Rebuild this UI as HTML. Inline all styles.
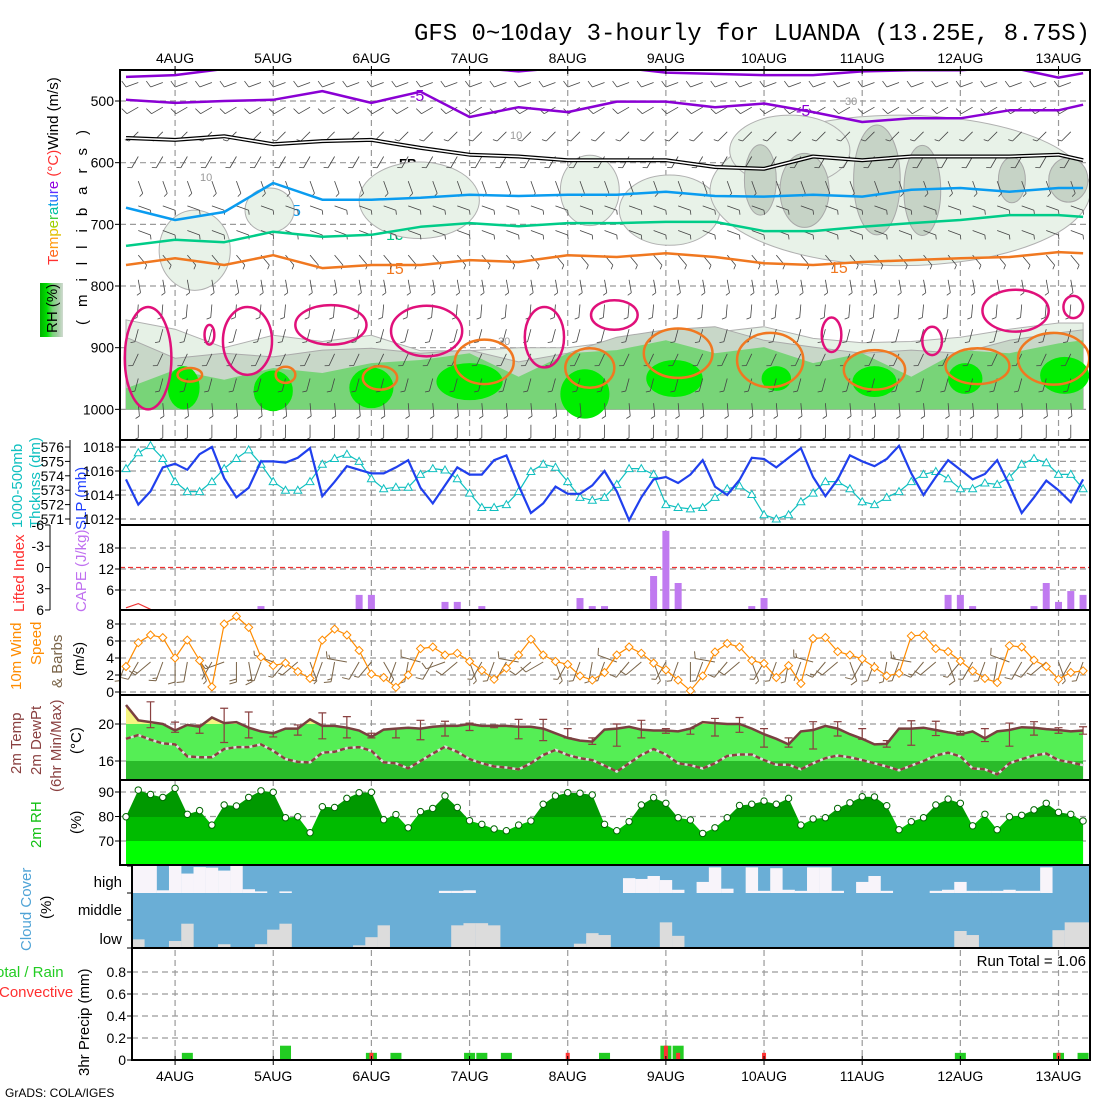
<!DOCTYPE html>
<html>
<head>
<meta charset="utf-8">
<title>GFS meteogram LUANDA</title>
<style>
html,body{margin:0;padding:0;background:#fff;}
svg{display:block;}
text{font-family:"Liberation Sans",sans-serif;}
</style>
</head>
<body>
<svg id="chart" width="1100" height="1100" viewBox="0 0 1100 1100" xmlns="http://www.w3.org/2000/svg">
<defs>
<clipPath id="clipUpper"><rect x="121" y="71" width="968" height="368"/></clipPath>
<clipPath id="clipCloud"><rect x="133" y="866" width="957" height="82"/></clipPath>
<clipPath id="clipTempY"><rect x="120" y="690" width="980" height="34"/></clipPath>
<clipPath id="clipTempG"><rect x="120" y="724" width="980" height="37"/></clipPath>
<clipPath id="clipTempD"><rect x="120" y="761" width="980" height="20"/></clipPath>
<clipPath id="clipRhA"><rect x="120" y="780" width="980" height="37"/></clipPath>
<clipPath id="clipRhB"><rect x="120" y="817" width="980" height="24"/></clipPath>
<clipPath id="clipRhC"><rect x="120" y="841" width="980" height="25"/></clipPath>
<linearGradient id="rhGrad" x1="0" x2="1" y1="0" y2="0">
<stop offset="0" stop-color="#00b000"/><stop offset="0.3" stop-color="#00e000"/><stop offset="0.55" stop-color="#78d478"/><stop offset="0.8" stop-color="#a8cca8"/><stop offset="1" stop-color="#d0dcd0"/>
</linearGradient>
</defs>

<text x="414" y="40" style="font-family:'Liberation Mono',monospace;" font-size="24" textLength="676" lengthAdjust="spacingAndGlyphs" fill="#000">GFS 0~10day 3-hourly for LUANDA (13.25E, 8.75S)</text>
<text x="5" y="1097" font-size="12" fill="#000">GrADS: COLA/IGES</text>

<text transform="translate(58,265) rotate(-90)" font-size="15"><tspan fill="#ff3030">T</tspan><tspan fill="#ff6a20">e</tspan><tspan fill="#ff9a10">m</tspan><tspan fill="#e0c000">p</tspan><tspan fill="#a0d000">e</tspan><tspan fill="#40d040">r</tspan><tspan fill="#00c0a0">a</tspan><tspan fill="#00a0e0">t</tspan><tspan fill="#2060ff">u</tspan><tspan fill="#6030ff">r</tspan><tspan fill="#9000e0">e</tspan><tspan fill="#ff3030"> (°C)</tspan><tspan fill="#000">Wind (m/s)</tspan></text>
<rect x="40" y="283" width="23" height="54" fill="url(#rhGrad)"/>
<text transform="translate(57,333) rotate(-90)" font-size="15" fill="#000">RH (%)</text>
<text transform="translate(87,325) rotate(-90)" font-size="15" fill="#000" textLength="195" lengthAdjust="spacing">(millibars)</text>

<text transform="translate(22,528) rotate(-90)" font-size="15" fill="#10c0c0">1000-500mb</text>
<text transform="translate(40,528) rotate(-90)" font-size="15" fill="#10c0c0">Thcknss (dm)</text>
<text transform="translate(86,530) rotate(-90)" font-size="15" fill="#2040ff">SLP (mb)</text>
<text transform="translate(24,612) rotate(-90)" font-size="15" fill="#ff3030">Lifted Index</text>
<text transform="translate(86,612) rotate(-90)" font-size="15" fill="#c070f0">CAPE (J/kg)</text>
<text transform="translate(21,690) rotate(-90)" font-size="15" fill="#ff8c00">10m Wind</text>
<text transform="translate(41,665) rotate(-90)" font-size="15" fill="#ff8c00">Speed</text>
<text transform="translate(62,688) rotate(-90)" font-size="15" fill="#7a6448">&amp; Barbs</text>
<text transform="translate(84,676) rotate(-90)" font-size="15" fill="#000">(m/s)</text>
<text transform="translate(21,774) rotate(-90)" font-size="15" fill="#8a4040">2m Temp</text>
<text transform="translate(41,775) rotate(-90)" font-size="15" fill="#8a4040">2m DewPt</text>
<text transform="translate(61,792) rotate(-90)" font-size="15" fill="#8a4040">(6hr Min/Max)</text>
<text transform="translate(81,754) rotate(-90)" font-size="15" fill="#000">(°C)</text>
<text transform="translate(41,848) rotate(-90)" font-size="15" fill="#10c010">2m RH</text>
<text transform="translate(81,834) rotate(-90)" font-size="15" fill="#000">(%)</text>
<text transform="translate(31,951) rotate(-90)" font-size="15" fill="#4fa3d6">Cloud Cover</text>
<text transform="translate(51,919) rotate(-90)" font-size="15" fill="#000">(%)</text>
<text x="122" y="887" font-size="15" text-anchor="end" fill="#000">high</text>
<text x="122" y="915" font-size="15" text-anchor="end" fill="#000">middle</text>
<text x="122" y="944" font-size="15" text-anchor="end" fill="#000">low</text>
<text x="-4" y="977" font-size="15" fill="#22cc22">otal / Rain</text>
<text x="-1" y="997" font-size="15" fill="#ff3030">Convective</text>
<text transform="translate(89,1076) rotate(-90)" font-size="15" fill="#000">3hr Precip (mm)</text>
<text x="1086" y="966" font-size="15" text-anchor="end" fill="#000">Run Total = 1.06</text>

<g font-size="16">
<text x="410" y="101" fill="#8a00d4">-5</text>
<text x="796" y="116" fill="#8a00d4">-5</text>
<text x="399" y="168" font-size="13" font-weight="bold" fill="#000">FR</text>
<text x="866" y="168" font-size="13" font-weight="bold" fill="#000">FR</text>
<text x="292" y="216" fill="#0a9cf0">5</text>
<text x="637" y="202" fill="#0a9cf0">5</text>
<text x="386" y="240" fill="#00cc88">10</text>
<text x="840" y="232" fill="#00cc88">10</text>
<text x="386" y="274" fill="#f07820">15</text>
<text x="830" y="273" fill="#f07820">15</text>
<text x="200" y="181" font-size="11" fill="#999">10</text>
<text x="510" y="139" font-size="11" fill="#999">10</text>
<text x="586" y="222" font-size="11" fill="#999">30</text>
<text x="498" y="345" font-size="11" fill="#999">30</text>
<text x="845" y="105" font-size="11" fill="#999">30</text>
</g>
</svg>

<script>
const dayLabels = ["4AUG","5AUG","6AUG","7AUG","8AUG","9AUG","10AUG","11AUG","12AUG","13AUG"];
const dayIdx = [4,12,20,28,36,44,52,60,68,76];

const pressureTicks = [500,600,700,800,900,1000];
const isoIdx = [0,4,8,12,16,20,24,28,32,36,40,44,48,52,56,60,64,68,72,76,78];
const isoM10 = [461,458,448,445,440,440,440,445,452,445,445,454,456,458,458,452,450,450,445,462,455];
const isoM5  = [498,503,500,498,484,503,485,526,510,518,501,501,510,504,518,534,528,528,515,515,506];
const isoFR  = [560,563,557,570,565,563,576,587,590,596,596,596,607,610,590,596,590,590,590,587,596];
const iso5   = [673,693,680,633,660,660,657,652,654,652,652,647,654,655,652,655,644,641,647,641,641];
const iso10  = [735,725,729,712,720,717,704,698,703,698,698,696,696,711,711,704,698,693,685,685,688];
const iso15  = [766,755,766,750,771,766,766,758,761,750,753,747,753,763,766,761,758,755,753,745,747];

const rh30Top = [855,870,900,880,890,880,905,905,900,900,890,880,875,866,885,892,890,883,870,860,860];
const rh50Top = [883,917,909,915,904,901,909,904,923,909,883,871,866,888,899,909,904,909,888,876,871];
const rh70Top = [966,936,952,933,941,925,920,909,947,909,904,888,909,899,925,909,947,904,909,893,888];

const blobIdx = [4.7,12,20,28,37.4,44.7,53,61,68.4,76.5];
const blobP   = [965,970,965,955,975,950,950,955,950,945];
const blobW   = [1.3,1.6,1.8,2.7,2,2.3,1.2,1.8,1.4,2];
const blobH   = [35,33,33,30,40,30,20,25,25,30];

const orgIdx = [5.2,13,20.7,29.2,37.8,45,52.5,61,69.4,75.6];
const orgP   = [944,944,949,923,933,909,920,936,930,918];
const orgW   = [1,0.8,1.4,2.4,2,2.8,2.7,2.5,2.6,2.9];
const orgH   = [11,13,19,36,32,40,44,32,29,42];

const magIdx = [1.8,6.8,9.9,16.7,24.5,34.1,39.8,57.5,65.7,72.5,77.2];
const magP   = [917,879,889,863,873,883,847,879,889,840,834];
const magW   = [1.9,0.4,2,2.9,2.9,1.6,1.9,0.8,0.8,2.7,0.8];
const magH   = [83,16,55,32,41,49,24,28,23,34,18];

const midIdx = [5.6,11.7,23.9,37.8,44.3,63.1,54.1];
const midP   = [742,677,661,645,677,645,580];
const midW   = [2.9,2,4.9,2.4,4.1,15.5,4.9];
const midH   = [65,36,62,57,57,122,57];
const darkIdx = [51.7,55.3,61.2,64.9,72.2,76.8];
const darkP   = [628,645,628,645,628,628];
const darkW   = [1.3,2,1.9,1.5,1.1,1.6];
const darkH   = [57,60,89,73,37,36];

const levelP   = [470,510,550,590,630,670,710,750,790,830,870,910,950,990,1025];
const levelDir = [250,240,225,210,160,110,110,140,170,185,195,205,195,175,180];
const levelSpd = [10,10,7,5,4,5,6,5,3,5,6,7,5,4,3];

const slp = [1015.3,1013.2,1014.3,1016.3,1016.6,1016.1,1017.4,1018,1015.4,1013.8,
1014.6,1016.8,1016.8,1016.7,1017.1,1017.9,1013.9,1015.1,1016.4,1016.1,
1015.8,1015.8,1016.3,1016.9,1014.6,1013.3,1014.8,1016.3,1015.7,1015.7,
1016.9,1017.3,1014.8,1012.5,1013.3,1014.7,1014.1,1014.1,1014.8,1016.0,
1014.3,1011.9,1013.8,1015.3,1015.5,1015.0,1015.7,1016.9,1014.7,1014.0,
1015.25,1017.1,1017.0,1016.3,1017.1,1017.9,1015.5,1013.9,1015.3,1017.3,
1016.8,1016.4,1017.0,1018.1,1015.8,1014.0,1015.5,1016.9,1016.1,1015.3,
1015.75,1016.9,1014.8,1012.5,1013.8,1015.2,1014.4,1013.4,1015.3];
const thick = [574.5,575.6,576.1,575.2,573.6,572.9,572.9,573.6,574.5,575.2,
575.8,574.8,573.6,573.0,573.0,573.6,574.8,575.2,575.5,575.0,
573.8,573.1,573.2,573.2,574.1,574.5,574.4,573.8,572.8,571.8,
571.8,572.0,572.9,574.3,574.8,574.6,573.6,572.5,572.3,572.5,
573.4,574.5,574.5,574.1,572.0,571.8,571.7,571.8,572.5,573.1,
573.3,572.7,571.3,571.0,571.3,572.2,572.8,573.6,573.6,573.1,
572.2,572.0,572.5,572.9,573.6,574.1,574.3,573.8,573.1,573.1,
573.5,573.4,573.9,574.8,575.2,574.9,574.1,574.1,573.1];
const slpTicks = [1012,1014,1016,1018];
const thickTicks = [571,572,573,574,575,576];

const capeIdx = [11,19,20,26,27,29,37,38,39,43,44,45,51,52,67,68,69,74,75,76,77,78];
const capeVal = [1.4,4.6,4.6,2.6,2.6,1.4,3.7,1.4,1.4,10,22.9,8,1.4,3.7,4.6,4.6,1.4,1.4,8,2.6,5.7,4.6];
const capeTicks = [6,12,18];
const liIdx = [0,1,2];
const liVal = [5.7,5.1,5.9];
const liTicks = [-6,-3,0,3,6];

const wspd = [3.0,5.8,6.7,6.4,4.0,6.1,3.7,0.6,8.0,8.9,
7.6,4.1,3.1,3.4,2.4,1.6,6.1,7.4,6.7,4.9,
2.1,1.7,0.55,2.0,5.1,5.3,4.35,4.55,3.6,2.55,
1.5,2.8,4.35,6.2,4.35,3.6,3.25,1.9,1.4,2.3,
4.35,5.3,4.55,3.4,2.6,1.4,0.15,1.9,4.7,5.7,
5.3,3.7,3.35,1.7,3.1,1.0,6.3,6.4,4.75,4.35,
3.9,2.9,1.9,2.2,6.6,6.7,5.1,4.75,3.65,2.5,
1.6,1.1,5.45,5.3,3.75,3.0,1.5,2.3,2.5];
const wdir = [200,210,230,200,180,190,160,210,250,180,
170,200,290,220,230,160,200,190,280,210,
220,150,200,190,285,210,250,230,160,210,
200,210,280,230,240,160,210,200,190,200,
290,220,230,160,210,200,180,200,280,220,
230,160,210,200,190,200,285,220,230,160,
210,200,190,200,280,220,230,160,220,210,
200,190,290,210,220,230,160,210,200];
const windTicks = [0,2,4,6,8];

const temp = [22.05,20.4,20.2,20.0,19.3,19.9,19.7,20.7,20.1,20.2,
19.6,19.2,19.0,19.5,19.5,20.5,19.8,19.8,19.6,19.3,
18.6,19.4,19.5,19.6,19.5,19.7,19.8,19.8,20.0,19.8,
19.8,19.8,19.7,19.7,19.5,19.0,18.5,18.2,18.1,19.4,
19.5,19.7,19.4,19.3,19.3,19.2,19.5,20.2,20.1,20.0,
20.0,19.5,18.9,18.4,17.8,19.2,19.35,19.8,19.5,18.9,
18.4,17.8,17.85,19.5,19.5,19.6,19.35,19.1,18.9,19.2,
18.45,19.2,19.35,19.65,19.6,19.45,19.35,19.2,19.3];
const dewpt = [18.4,18.8,18.3,17.9,17.8,16.5,16.4,16.4,17.3,17.5,
17.5,17.8,17.1,16.2,15.9,15.85,16.9,17.0,17.4,17.5,
17.1,15.85,15.75,15.2,16.0,16.8,17.55,17.0,16.2,15.75,
15.4,15.3,15.1,15.75,16.65,17.2,16.65,16.3,16.1,15.5,
14.85,15.75,16.65,17.3,16.7,15.75,15.55,15.2,15.75,16.55,
16.7,16.7,16.1,15.6,15.6,15.1,15.75,16.3,16.6,16.4,
16.1,15.75,15.4,15.0,15.5,16.0,16.6,16.9,16.5,15.2,
15.1,14.55,15.75,16.2,16.6,16.8,16.1,15.85,15.55];
const ebIdx = [2,4,6,8,10,12,14,16,18,20,22,24,26,28,30,32,34,36,38,40,42,44,46,48,50,52,54,56,58,60,62,64,66,68,70,72,74,76,78];
const ebHi = [22.4,20.2,19.9,21.7,21.3,19.1,19.9,21.2,20.8,19.0,19.5,20.4,20.3,20.1,19.9,20.5,20.5,19.5,18.5,20.0,20.4,19.5,19.5,20.6,20.7,19.5,18.5,20.25,20.25,19.5,18.2,20.35,20.3,19.2,19.5,20.1,20.25,19.6,19.7];
const ebLo = [19.6,19.1,19.0,18.0,18.5,18.6,18.8,18.4,18.5,18.5,18.5,18.3,18.7,19.3,19.6,18.4,18.2,18.5,17.8,17.6,18.5,19.0,18.9,18.7,19.1,17.5,17.5,17.3,18.7,18.35,17.5,17.7,18.75,18.8,18.1,17.6,18.8,19.0,18.9];
const tempTicks = [16,20];

const rh2m = [79.9,90.8,89,87.8,91.5,80.9,82.4,76.5,84.7,84.3,
87.8,90.5,89.9,79.5,79.9,73.4,84,83.7,87.4,89.7,
89.9,78.7,80.8,75.4,82,83.3,88.4,83.7,78.3,76.8,
74.9,74.2,76.5,78.2,85,88.4,89.7,89.5,88.8,76.8,
74.2,77.9,84.7,87.7,85.4,79.5,78.6,73.1,75.4,79.5,
84.5,85,86.3,85,87.4,76.5,79,79.5,83.3,85.6,
88.1,88,84.4,74.6,77.9,79.5,84.7,87.1,85.4,76.2,
80.9,74.6,79.9,80.5,82.7,85.4,81.7,80.9,78.2];
const rhTicks = [70,80,90];

const cloudHighClear = [1,1,1,0.1,1,0.72,0.96,0.94,0.83,1,
0.14,0.06,0,0.06,0,0,0,0,0,0,
0,0,0,0,0,0,0.08,0.08,0.1,0,
0,0,0,0,0,0,0,0,0,0,
0,0.55,0.52,0.63,0.48,0.12,0,0.41,0.95,0.16,
0,0.95,0.08,0.92,0.12,0.08,0.95,0.95,0.08,0,
0.41,0.63,0.08,0,0,0,0.08,0.12,0.41,0.08,
0.08,0.08,0.12,0.08,0.08,0.95,0,0,0];
const cloudLowClear = [0,0.32,0,0,0.26,0.9,0,0,0.14,0,
0,0.14,0.68,0.9,0,0,0,0,0,0.1,
0.4,0.84,0,0,0,0,0,0.84,0.92,0.92,
0.84,0,0,0,0,0,0,0.16,0.55,0.48,
0,0,0,0,0.95,0.45,0,0,0,0,
0,0,0,0,0,0,0,0,0,0,
0,0,0,0,0,0,0,0,0.63,0.48,
0,0,0,0,0,0,0.66,0.95,0.95];

const rainIdx = [5,13,20,22,28,29,31,39,44,45,68,76,78];
const rainVal = [0.065,0.13,0.065,0.065,0.065,0.065,0.065,0.065,0.13,0.13,0.065,0.065,0.065];
const convIdx = [20,36,44,45,52,76];
const convVal = [0.065,0.065,0.13,0.065,0.065,0.065];
const precipTicks = [0,0.2,0.4,0.6,0.8];

const NS = "http://www.w3.org/2000/svg";
const svg = document.getElementById("chart");
function xOf(i){ return 126 + i*12.27; }
function yP(p){ return 101 + (p-500)*0.6167; }
function ySlp(v){ return 447 + (1018-v)*12; }
function yThk(v){ return 447 + (576-v)*14.4; }
function yCape(v){ return 611 - v*3.5; }
function yLi(v){ return 525 + (v+6)*7.08; }
function yWind(v){ return 692 - v*8.5; }
function yTemp(v){ return 724 + (20-v)*9.25; }
function yRh(v){ return 792 + (90-v)*2.45; }
function yPrec(v){ return 1060 - v*110; }
function mk(tag, a, parent){
  const e = document.createElementNS(NS, tag);
  for (const k in a) e.setAttribute(k, a[k]);
  (parent || svg).appendChild(e);
  return e;
}
function pts(arr){ return arr.map(p => p[0].toFixed(1)+","+p[1].toFixed(1)).join(" "); }
const GRID = "#9a9a9a";

const panels = [
  {name:"upper-panel", x0:120, y0:70, y1:440},
  {name:"slp-panel", x0:120, y0:440, y1:525},
  {name:"cape-panel", x0:120, y0:525, y1:610},
  {name:"wind-panel", x0:120, y0:610, y1:695},
  {name:"temp-panel", x0:120, y0:695, y1:780},
  {name:"rh-panel", x0:120, y0:780, y1:865},
  {name:"cloud-panel", x0:132, y0:865, y1:948},
  {name:"precip-panel", x0:132, y0:948, y1:1060}
];
const gridLayer = mk("g", {});


const markLayer = mk("g", {});


const frameLayer = mk("g", {});



function hgrid(y, x0){
  const l = mk("line", {x1:x0, x2:1090, y1:y, y2:y, stroke:GRID, "stroke-width":1.2, "stroke-dasharray":"6,4"}, gridLayer);
  
  
}
function ytick(x, y, label, name, color){
  const t = mk("line", {x1:x-5, x2:x, y1:y, y2:y, stroke:"#000", "stroke-width":1}, frameLayer);
  
  
  const tx = mk("text", {x:x-6, y:y+5, "font-size":14, "text-anchor":"end", fill:color||"#000"}, frameLayer);
  tx.textContent = label;
  
  
}

dayIdx.forEach((d, k) => {
  const x = xOf(d);
  const l = mk("line", {x1:x, x2:x, y1:70, y2:1060, stroke:GRID, "stroke-width":1.2, "stroke-dasharray":"6,4"}, gridLayer);
  
  
  const t1 = mk("text", {x:x, y:63, "font-size":14, "text-anchor":"middle", fill:"#000"}, frameLayer);
  t1.textContent = dayLabels[k];
  
  
  const t2 = mk("text", {x:x, y:1081, "font-size":14, "text-anchor":"middle", fill:"#000"}, frameLayer);
  t2.textContent = dayLabels[k];
  
  
  const tk1 = mk("line", {x1:x, x2:x, y1:66, y2:74, stroke:"#000"}, frameLayer);
  
  
  const tk2 = mk("line", {x1:x, x2:x, y1:1056, y2:1065, stroke:"#000"}, frameLayer);
  
  
});

const up = mk("g", {"clip-path":"url(#clipUpper)"}, markLayer);



function bandPoly(topArr, color, name, stroke){
  const top = isoIdx.map((i, k) => [xOf(i), yP(topArr[k])]);
  const poly = top.concat([[xOf(78), yP(1000)], [xOf(0), yP(1000)]]);
  const e = mk("polygon", {points:pts(poly), fill:color, stroke:stroke||"none", "stroke-width":1}, up);
  
  
}
function ell(idxA, pA, wA, hA, k, attrs, name){
  const e = mk("ellipse", Object.assign({cx:xOf(idxA[k]), cy:yP(pA[k]), rx:wA[k]*12.27, ry:hA[k]*0.6167}, attrs), up);
  
  
}
midIdx.forEach((_, k) => ell(midIdx, midP, midW, midH, k, {fill:"#e8f2e8", stroke:"#b0b0b0", "stroke-width":1}, "midlevel-moist-patch"));
darkIdx.forEach((_, k) => ell(darkIdx, darkP, darkW, darkH, k, {fill:"#c6d3c6", stroke:"#a8a8a8", "stroke-width":1}, "midlevel-humid-patch"));
bandPoly(rh30Top, "#e6f1e6", "rh30-band", "#b0b0b0");
bandPoly(rh50Top, "#c8d7c8", "rh50-band", "#aaaaaa");
bandPoly(rh70Top, "#78d478", "rh70-band");
blobIdx.forEach((_, k) => ell(blobIdx, blobP, blobW, blobH, k, {fill:"#00ee00"}, "rh90-blob"));

pressureTicks.forEach(p => { hgrid(yP(p), 120); ytick(120, yP(p), String(p), "pressure-" + p); });

function barb(g, x, y, dir, spd, len, color, sw, name){
  const a = dir*Math.PI/180;
  const dx = Math.sin(a), dy = -Math.cos(a);
  const ex = x + dx*len, ey = y + dy*len;
  const s = mk("line", {x1:x, y1:y, x2:ex, y2:ey, stroke:color, "stroke-width":sw}, g);
  
  
  const px = -dy, py = dx;
  let n = Math.round(spd/5);
  let pos = 0;
  while (n > 0){
    const bl = n >= 2 ? 7 : 4;
    const bx = ex - dx*pos, by = ey - dy*pos;
    const b = mk("line", {x1:bx, y1:by, x2:bx + px*bl + dx*2, y2:by + py*bl + dy*2, stroke:color, "stroke-width":sw}, g);
    
    
    n -= 2; pos += 3;
  }
}
for (let i = 1; i < 79; i += 2){
  levelP.forEach((p, k) => barb(up, xOf(i), yP(p), levelDir[k], levelSpd[k], 13, "#444", 0.8, "upper-wind-barb"));
}

function iso(arr, color, w, name){
  const e = mk("polyline", {points:pts(isoIdx.map((i, k) => [xOf(i), yP(arr[k])])), fill:"none", stroke:color, "stroke-width":w, "stroke-linejoin":"round"}, up);
  
  
}
iso(isoM10, "#8a00d4", 2.5, "isotherm-minus10");
iso(isoM5, "#8a00d4", 2.5, "isotherm-minus5");
iso(isoFR, "#000", 4, "freezing-level-outer");
iso(isoFR, "#fff", 1.5, "freezing-level-inner");
iso(iso5, "#0a9cf0", 2.5, "isotherm-5");
iso(iso10, "#00cc88", 2.5, "isotherm-10");
iso(iso15, "#f07820", 2.5, "isotherm-15");
orgIdx.forEach((_, k) => ell(orgIdx, orgP, orgW, orgH, k, {fill:"none", stroke:"#f07820", "stroke-width":2.5}, "isotherm-20-loop"));
magIdx.forEach((_, k) => ell(magIdx, magP, magW, magH, k, {fill:"none", stroke:"#e0107a", "stroke-width":2.5}, "isotherm-25-loop"));

slpTicks.forEach(v => { hgrid(ySlp(v), 120); ytick(120, ySlp(v), String(v), "slp-" + v, "#000"); });
thickTicks.forEach(v => {
  if (v !== 574 && v !== 572) hgrid(yThk(v), 120);
  ytick(70, yThk(v), String(v), "thickness-" + v, "#000");
});
const thkAxis = mk("line", {x1:70, x2:70, y1:440, y2:525, stroke:"#000"}, frameLayer);


const thkLine = mk("polyline", {points:pts(thick.map((v, i) => [xOf(i), yThk(v)])), fill:"none", stroke:"#10c0c0", "stroke-width":1.2}, markLayer);


thick.forEach((v, i) => {
  const x = xOf(i), y = yThk(v);
  const m = mk("polygon", {points:pts([[x, y-4], [x-4, y+3], [x+4, y+3]]), fill:"#fff", stroke:"#10c0c0", "stroke-width":1}, markLayer);
  
  
});
const slpLine = mk("polyline", {points:pts(slp.map((v, i) => [xOf(i), ySlp(v)])), fill:"none", stroke:"#2040ee", "stroke-width":2.2}, markLayer);



capeTicks.forEach(v => { hgrid(yCape(v), 120); ytick(120, yCape(v), String(v), "cape-" + v); });
liTicks.forEach(v => ytick(50, yLi(v), String(v), "li-" + v));
const liAxis = mk("line", {x1:50, x2:50, y1:525, y2:610, stroke:"#000"}, frameLayer);


const liZero = mk("line", {x1:120, x2:1090, y1:yLi(0), y2:yLi(0), stroke:"#ee3333", "stroke-width":1.2, "stroke-dasharray":"5,3"}, markLayer);


capeIdx.forEach((i, k) => {
  const r = mk("rect", {x:xOf(i)-3.5, y:yCape(capeVal[k]), width:7, height:yCape(0)-yCape(capeVal[k]), fill:"#c07af0"}, markLayer);
  
  
});
const liLine = mk("polyline", {points:pts(liIdx.map((i, k) => [xOf(i), yLi(liVal[k])])), fill:"none", stroke:"#ee3333", "stroke-width":1.2}, markLayer);



windTicks.forEach(v => { hgrid(yWind(v), 120); ytick(120, yWind(v), String(v), "wind-" + v); });
const wb = mk("g", {}, markLayer);


wdir.forEach((d, i) => barb(wb, xOf(i), 662, d, wspd[i]*2, 20, "#7a6448", 1, "wind10-barb"));
const wl = mk("polyline", {points:pts(wspd.map((v, i) => [xOf(i), yWind(v)])), fill:"none", stroke:"#ff8c00", "stroke-width":1.2}, markLayer);


wspd.forEach((v, i) => {
  const x = xOf(i), y = yWind(v);
  const m = mk("polygon", {points:pts([[x, y-4], [x+4, y], [x, y+4], [x-4, y]]), fill:"#fff", stroke:"#ff8c00", "stroke-width":1}, markLayer);
  
  
});

const tPoly = temp.map((v, i) => [xOf(i), yTemp(v)]).concat([[xOf(78), 780], [xOf(0), 780]]);
[["url(#clipTempY)", "#f5f580", "temp-above20-fill"], ["url(#clipTempG)", "#55ee55", "temp-fill"], ["url(#clipTempD)", "#2abb2a", "temp-below16-fill"]].forEach(c => {
  const e = mk("polygon", {points:pts(tPoly), fill:c[1], "clip-path":c[0]}, markLayer);
  
  
});
tempTicks.forEach(v => { hgrid(yTemp(v), 120); ytick(120, yTemp(v), String(v), "temp-" + v); });
ebIdx.forEach((i, k) => {
  const x = xOf(i);
  const g = mk("path", {d:`M${x},${yTemp(ebHi[k])}V${yTemp(ebLo[k])}M${x-4},${yTemp(ebHi[k])}H${x+4}M${x-4},${yTemp(ebLo[k])}H${x+4}`, stroke:"#8a4040", "stroke-width":1.2, fill:"none"}, markLayer);
  
  
});
const dl1 = mk("polyline", {points:pts(dewpt.map((v, i) => [xOf(i), yTemp(v)])), fill:"none", stroke:"#ddd", "stroke-width":2.5}, markLayer);


const dl2 = mk("polyline", {points:pts(dewpt.map((v, i) => [xOf(i), yTemp(v)])), fill:"none", stroke:"#8a4040", "stroke-width":2.5, "stroke-dasharray":"5,3"}, markLayer);


const tl = mk("polyline", {points:pts(temp.map((v, i) => [xOf(i), yTemp(v)])), fill:"none", stroke:"#7a4040", "stroke-width":2.5}, markLayer);



const rPoly = rh2m.map((v, i) => [xOf(i), yRh(v)]).concat([[xOf(78), 865], [xOf(0), 865]]);
[["url(#clipRhA)", "#009900", "rh-above80-fill"], ["url(#clipRhB)", "#00bb00", "rh-70-80-fill"], ["url(#clipRhC)", "#00ff00", "rh-below70-fill"]].forEach(c => {
  const e = mk("polygon", {points:pts(rPoly), fill:c[1], "clip-path":c[0]}, markLayer);
  
  
});
rhTicks.forEach(v => { hgrid(yRh(v), 120); ytick(120, yRh(v), String(v), "rh-" + v); });
rh2m.forEach((v, i) => {
  const c = mk("circle", {cx:xOf(i), cy:yRh(v), r:3.2, fill:"#fff", stroke:"#006600", "stroke-width":1}, markLayer);
  
  
});

const cg = mk("g", {"clip-path":"url(#clipCloud)"}, markLayer);


const cbg = mk("rect", {x:132, y:866, width:958, height:82, fill:"#6aaed6"}, cg);


cloudHighClear.forEach((v, i) => {
  if (v <= 0) return;
  const w = i === 78 ? 20 : 12.4;
  const r = mk("rect", {x:xOf(i)-6.1, y:893 - v*27, width:w, height:v*27, fill:"#f8f4fa"}, cg);
  
  
});
cloudLowClear.forEach((v, i) => {
  if (v <= 0) return;
  const w = i === 78 ? 20 : 12.4;
  const r = mk("rect", {x:xOf(i)-6.1, y:948 - v*27, width:w, height:v*27, fill:"#dcdcdc"}, cg);
  
  
});
[893, 920, 947].forEach(y => hgrid(y, 132));
[866, 893, 920, 948].forEach(y => {
  const t = mk("line", {x1:127, x2:132, y1:y, y2:y, stroke:"#000"}, frameLayer);
  
  
});

precipTicks.forEach(v => { if (v > 0) hgrid(yPrec(v), 132); ytick(132, yPrec(v), v === 0 ? "0" : v.toFixed(1), "precip-" + v); });
rainIdx.forEach((i, k) => {
  const r = mk("rect", {x:xOf(i)-5.5, y:yPrec(rainVal[k]), width:11, height:yPrec(0)-yPrec(rainVal[k]), fill:"#22cc22"}, markLayer);
  
  
});
convIdx.forEach((i, k) => {
  const r = mk("rect", {x:xOf(i)-2, y:yPrec(convVal[k]), width:4, height:yPrec(0)-yPrec(convVal[k]), fill:"#ff3333"}, markLayer);
  
  
});

panels.forEach(p => {
  const r = mk("rect", {x:p.x0, y:p.y0, width:1090-p.x0, height:p.y1-p.y0, fill:"none", stroke:"#000", "stroke-width":2}, frameLayer);
  
  
});
</script>
</body>
</html>
